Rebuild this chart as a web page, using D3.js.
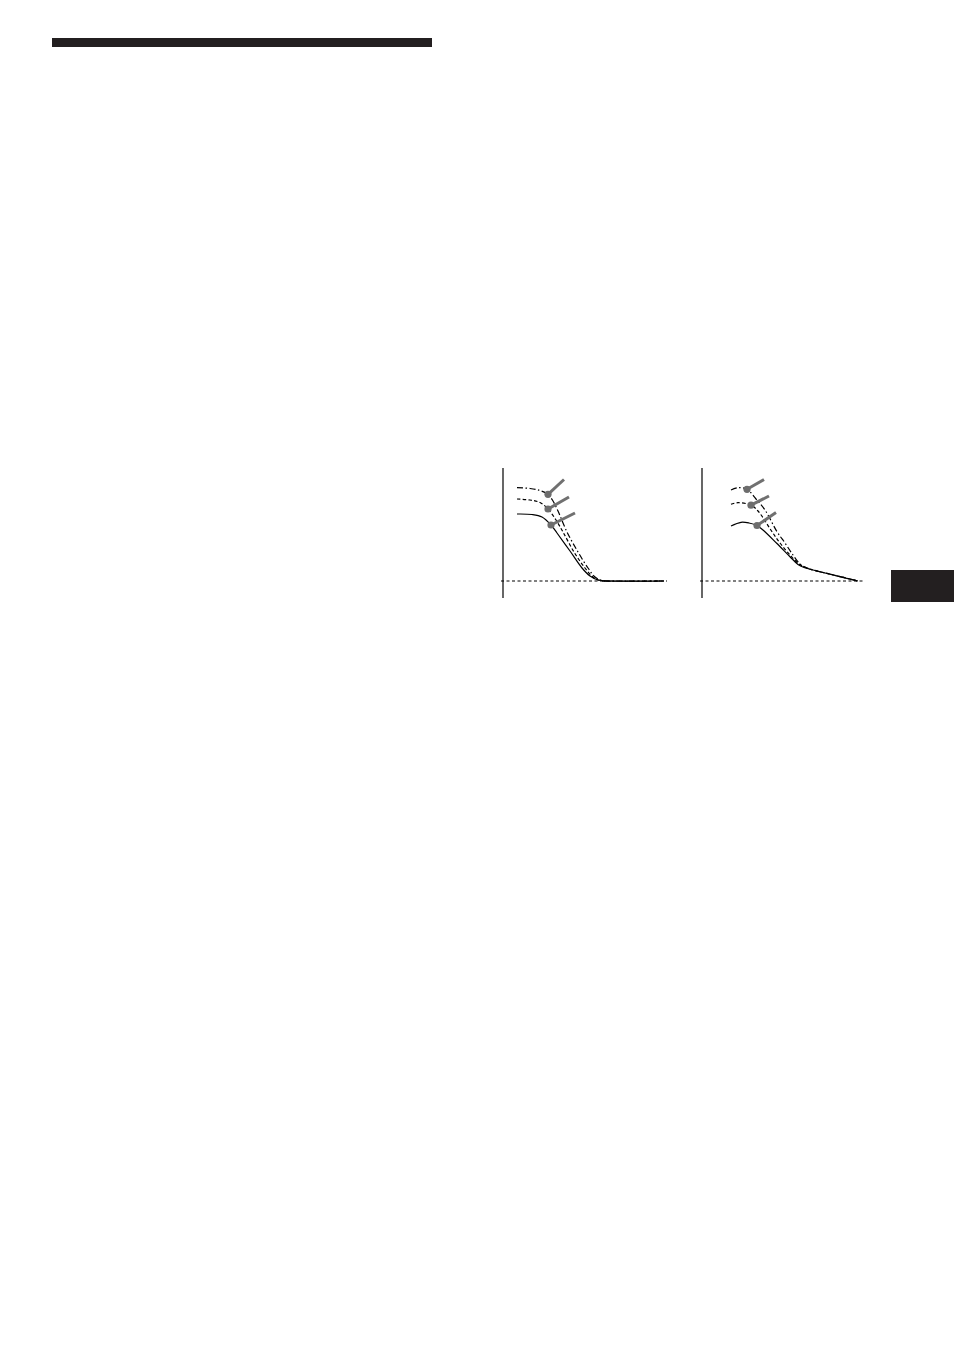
<!DOCTYPE html>
<html><head><meta charset="utf-8">
<script src="https://cdn.jsdelivr.net/npm/d3@7"></script>
<style>body{margin:0;background:#fff}svg{display:block}</style>
</head><body>
<script>
// Chart 1 curves: [x, level]
const c1Top = [[14,93.3],[27,92.5],[37,90.5],[45,86.7],[50,80],[55,70],[64,49],[75,29],[85,13],[92,4],[99,0.5],[117,0],[161,0]];
const c1Mid = [[14,82],[27,81],[37,78.5],[45,72],[53,61],[60,49],[71,29],[82,13],[90,4],[97,0.5],[117,0],[161,0]];
const c1Low = [[14,67],[29,66.5],[39,64],[48,56],[54,48],[67,30],[79,13],[87,5],[95,1],[107,0],[161,0]];
const c1Dots = [[45,86.7],[45,72],[48,56]];
const c1Handles = [[61,101.5],[66,84],[72,68]];
// Chart 2 curves
const c2Top = [[29,91],[36,93.3],[45,91.7],[54,82],[63,71],[75,49.3],[83,38],[91,26],[98,17],[104,13.5],[112,10.8],[131,6.2],[156,0]];
const c2Mid = [[29,76.7],[36,78.3],[49,75.8],[56,70],[70,49.3],[78,38],[88,26],[97,17],[103,13.8],[112,10.8],[131,6.2],[156,0]];
const c2Low = [[29,55],[39,58.7],[47,58],[55,55.5],[61,51],[74.7,37.7],[88,24.3],[96,16.5],[102,13.5],[111,11],[131,6],[156,0]];
const c2Dots = [[45,91.7],[49,75.8],[55,55.5]];
const c2Handles = [[62,101.5],[67,85],[74,68.5]];

const W = 954, H = 1355;
const svg = d3.select("body").append("svg").attr("width", W).attr("height", H);

// page decorations
svg.append("rect").attr("x",52).attr("y",38).attr("width",380).attr("height",9).attr("fill","#231f20");
svg.append("rect").attr("x",891).attr("y",570).attr("width",63).attr("height",32).attr("fill","#231f20");

function drawChart(ax, curves, dots, handles, baseEnd) {
  const x = d3.scaleLinear().domain([0,165]).range([ax, ax+165]);
  const y = d3.scaleLinear().domain([0,113]).range([581, 468]);
  const g = svg.append("g");
  // vertical axis
  g.append("line").attr("x1",x(0)).attr("x2",x(0)).attr("y1",y(113)).attr("y2",y(-17))
    .attr("stroke","#000").attr("stroke-width",1.2);
  // dashed baseline
  g.append("line").attr("x1",x(-2)).attr("x2",x(baseEnd)).attr("y1",y(0)).attr("y2",y(0))
    .attr("stroke","#000").attr("stroke-width",1).attr("stroke-dasharray","3,2.5");
  const line = d3.line().x(d=>x(d[0])).y(d=>y(d[1])).curve(d3.curveCatmullRom.alpha(0.5));
  const dashes = ["6,2.5,1.5,2.5", "3.5,2.2", null];
  curves.forEach((c,i)=>{
    const p = g.append("path").attr("d", line(c)).attr("fill","none")
      .attr("stroke","#000").attr("stroke-width",1.2);
    if (dashes[i]) p.attr("stroke-dasharray", dashes[i]);
  });
  handles.forEach((h,i)=>{
    g.append("line").attr("x1",x(dots[i][0])).attr("y1",y(dots[i][1]))
      .attr("x2",x(h[0])).attr("y2",y(h[1]))
      .attr("stroke","#707070").attr("stroke-width",3).attr("stroke-linecap","butt");
  });
  dots.forEach(d=>{
    g.append("circle").attr("cx",x(d[0])).attr("cy",y(d[1])).attr("r",3.6).attr("fill","#6d6d6d");
  });
}
drawChart(503, [c1Top,c1Mid,c1Low], c1Dots, c1Handles, 164);
drawChart(702, [c2Top,c2Mid,c2Low], c2Dots, c2Handles, 163);
</script>
</body></html>
